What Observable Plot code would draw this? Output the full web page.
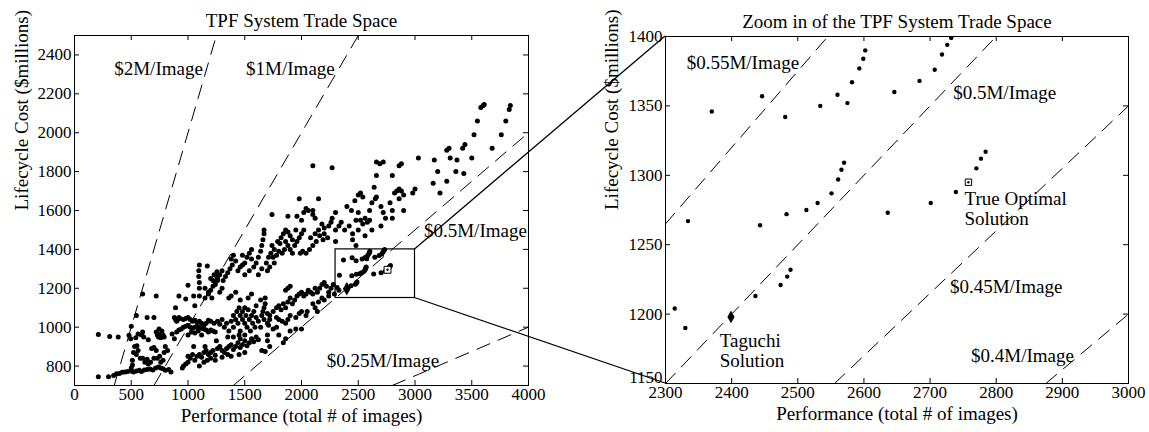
<!DOCTYPE html>
<html><head><meta charset="utf-8">
<script src="https://cdn.jsdelivr.net/npm/d3@7"></script>
<script src="https://cdn.jsdelivr.net/npm/@observablehq/plot@0.6"></script>
<style>
body{margin:0;background:#fff;}
#wrap{position:relative;width:1149px;height:432px;overflow:hidden;background:#fff;}
#wrap > svg{position:absolute;top:0;}
</style></head><body><div id="wrap"></div>
<script>
// ---------- data ----------
const leftXTicks = [0,500,1000,1500,2000,2500,3000,3500,4000];
const leftYTicks = [800,1000,1200,1400,1600,1800,2000,2200,2400];
const rightXTicks = [2300,2400,2500,2600,2700,2800,2900,3000];
const rightYTicks = [1150,1200,1250,1300,1350,1400];
const leftRates = [2,1,0.5,0.25];          // $M per image
const rightRates = [0.55,0.5,0.45,0.4];
const zoomBox = [{x1:2300,x2:3000,y1:1150,y2:1400}];
const leftNotes = [
  {text:"$2M/Image", x:350, y:2330},
  {text:"$1M/Image", x:1512, y:2330},
  {text:"$0.5M/Image", x:3079, y:1495},
  {text:"$0.25M/Image", x:2223, y:831}
];
const rightNotes = [
  {text:"$0.55M/Image", x:2332, y:1381},
  {text:"$0.5M/Image", x:2735, y:1360},
  {text:"$0.45M/Image", x:2730, y:1220},
  {text:"$0.4M/Image", x:2762, y:1170},
  {text:"True Optimal\nSolution", x:2752, y:1276},
  {text:"Taguchi\nSolution", x:2382, y:1174}
];
// design points inside the zoom window
const zoomPoints = [
  [2314,1204],[2330,1190],[2334,1267],[2370,1346],[2446,1357],[2481,1342],[2534,1350],
  [2560,1358],[2575,1352],[2582,1367],[2593,1377],[2599,1384],[2602,1390],[2646,1360],
  [2684,1368],[2707,1376],[2718,1387],[2726,1394],[2732,1399],[2739,1288],[2770,1305],
  [2777,1312],[2784,1317],[2701,1280],[2636,1273],[2570,1309],[2566,1304],[2561,1297],
  [2551,1287],[2530,1280],[2513,1275],[2483,1272],[2443,1264],[2489,1232],[2484,1227],
  [2474,1221],[2436,1213]
];
const taguchi = [[2399,1198]];
const trueOptimal = [[2758,1295]];
// remaining design points of the trade space
const tradePoints = [
  // bottom stream
  [210,745],[300,745],[345,752],[370,760],[395,762],[420,768],[445,770],[470,772],[500,775],[520,770],
  [545,775],[570,778],[590,772],[615,780],[640,782],[665,785],[690,780],[715,790],[740,795],[760,790],
  [780,786],[800,778],[830,782],[850,770],[500,790],[510,805],
  // left scatter
  [210,962],[310,952],[385,950],[480,958],[500,1005],[495,940],[520,870],[530,900],[510,830],[550,905],
  [560,880],[545,860],[580,840],[600,840],[620,820],[640,835],[590,960],[600,975],[560,965],[540,945],
  [610,950],[650,935],[680,890],[700,895],[720,880],[730,840],[750,850],[760,820],[700,840],[670,820],
  [650,810],[780,830],[790,870],[800,900],[820,880],
  [720,975],[730,960],[740,950],[755,965],[770,980],[780,960],[760,945],[790,950],[745,990],[700,1050],
  [720,1160],[600,1170],[545,1060],[640,1050],
  // dense 1000-level cluster
  [880,1050],[890,1040],[900,1030],[910,1040],[920,1050],[930,1045],[900,975],[920,985],[940,990],[960,1000],
  [980,1005],[1000,1010],[1020,1000],[1040,995],[1060,1000],[1080,1005],[1100,1000],[1120,995],[1140,990],[1160,985],
  [1180,975],[1200,985],[1220,980],[1240,975],[960,1040],[980,1045],[1000,1050],[1020,1040],[1040,1030],[1060,1035],
  [1080,1025],[1100,1030],[1120,1020],[1140,1010],[1160,1020],[1180,1035],[1200,1030],[1230,1020],[1260,1030],[1280,1015],
  [1300,1040],[1000,960],[1030,975],[1060,970],[1090,980],[1120,960],[860,965],[880,940],
  [890,1100],[920,1160],[1000,1215],[980,1145],[1050,1160],[1060,1110],[1100,1160],[1100,1200],[1100,1230],[1095,1260],
  [1095,1290],[1100,1320],[1170,1315],[1150,1200],[1180,1180],[1210,1150],[1250,1265],[1255,1285],[1260,1240],[1240,1220],
  [1300,1200],[1280,1180],[1200,1250],[1220,1240],[1230,1270],
  // lower band
  [950,790],[960,800],[980,810],[1000,820],[1000,850],[1020,840],[1040,860],[1060,830],[1080,850],[1100,860],
  [1120,845],[1140,870],[1160,880],[1180,860],[1200,870],[1220,880],[1240,855],[1260,890],[1280,900],[1300,880],
  [1320,870],[1340,890],[1360,900],[1380,910],[1400,885],[1420,900],[1440,920],[1460,895],[1480,910],[1500,930],
  [1520,905],[1540,920],[1560,940],[1580,925],[1600,950],[1620,935],[1650,880],[1680,875],[1500,870],[1450,860],
  [1380,850],[1100,800],[1140,820],[1170,830],[1200,840],[1240,830],[1300,845],[1350,860],[1460,940],[1050,900],
  [1150,900],[1250,930],[1350,950],[1450,960],[1400,950],
  // middle cloud
  [1320,1000],[1340,1020],[1360,980],[1380,1030],[1400,1060],[1400,1000],[1420,1040],[1430,1080],[1440,1020],[1450,1100],
  [1460,1060],[1480,1040],[1480,1080],[1500,1100],[1500,1020],[1510,1060],[1520,1000],[1530,1090],[1540,1040],[1550,980],
  [1560,1060],[1570,1020],[1580,1080],[1590,1000],[1600,1050],[1620,1030],[1640,1000],[1650,1060],[1660,1080],[1670,1100],
  [1680,1120],[1680,1150],[1670,1040],[1700,1070],[1710,1010],[1720,1040],[1500,960],[1460,980],[1360,1150],[1380,1160],
  [1420,1180],[1460,1140],[1530,1150],[1560,1170],[1600,1110],[1640,1140],
  // upper band
  [1150,1150],[1180,1170],[1200,1190],[1220,1210],[1240,1230],[1260,1250],[1280,1270],[1300,1290],[1310,1240],[1330,1260],
  [1350,1280],[1370,1300],[1390,1320],[1400,1370],[1380,1350],[1420,1340],[1440,1290],[1460,1310],[1480,1320],[1500,1330],
  [1520,1360],[1540,1380],[1560,1400],[1580,1310],[1600,1330],[1620,1360],[1640,1390],[1650,1420],[1660,1450],[1670,1480],
  [1670,1500],[1560,1350],[1480,1370],[1500,1270],[1540,1290],[1620,1270],[1650,1300],[1690,1330],[1710,1360],[1730,1380],
  [1700,1290],[1720,1310],[1740,1420],[1750,1360],[1760,1400],[1780,1370],[1800,1390],[1760,1330],[1790,1440],[1810,1430],
  [1820,1460],[1840,1480],[1860,1500],[1880,1490],[1900,1470],[1920,1450],[1860,1440],[1880,1420],[1900,1400],[1920,1380],
  [1940,1420],[1960,1440],[1980,1460],[2000,1480],[2020,1500],[1950,1500],[1850,1400],[1830,1380],[1990,1380],[2010,1390],
  [2040,1380],[2070,1400],[2100,1420],[2130,1440],[2160,1470],[2080,1460],[2120,1480],[2150,1500],[2200,1510],[2240,1520],
  [2260,1540],[2270,1560],[2300,1500],[2330,1520],[2350,1540],[2190,1450],[2230,1460],[2020,1590],[2040,1610],[2060,1600],
  [2100,1580],[2120,1560],[2000,1550],[1960,1570],[1980,1660],[2150,1660],[2100,1600],[2180,1530],[2200,1480],[2300,1590],
  [1880,1570],[1740,1580],[2100,1830],[2270,1820],
  // upper right
  [2380,1500],[2420,1520],[2450,1480],[2480,1550],[2500,1590],[2520,1550],[2540,1530],[2560,1560],[2580,1540],[2400,1620],
  [2440,1600],[2470,1650],[2500,1680],[2520,1690],[2540,1670],[2600,1600],[2620,1640],[2650,1660],[2660,1670],[2700,1620],
  [2720,1590],[2740,1560],[2780,1640],[2800,1600],[2820,1690],[2840,1700],[2860,1710],[2880,1700],[2900,1680],[2860,1660],
  [2640,1720],[2660,1780],[2690,1840],[2720,1850],[2800,1780],[2860,1830],[2880,1840],[2660,1850],[2600,1550],[2500,1500],
  [2620,1500],[2700,1520],[2800,1560],[2900,1600],[2980,1690],[3000,1710],[3030,1870],[3160,1740],[3200,1800],[3170,1860],
  [3220,1690],[3280,1910],[3300,1920],[3310,1870],[3370,1860],[3360,1800],[3280,1750],[3420,1920],[3440,1940],[3430,1790],
  [3500,1870],[3520,1990],[3550,2060],[3580,2130],[3600,2140],[3610,2145],[3680,1920],[3760,1990],[3800,2060],[3830,2120],
  [3840,2140],[2450,1450],[2560,1470],[2480,1420],[2300,1440],
  // second lower band
  [1700,1020],[1720,1060],[1750,1080],[1780,1100],[1800,1110],[1820,1090],[1840,1120],[1860,1100],[1880,1130],[1900,1150],
  [1920,1120],[1940,1140],[1960,1160],[1980,1170],[2000,1180],[2020,1160],[2040,1170],[2060,1190],[2080,1180],[2100,1170],
  [2120,1200],[2140,1180],[2160,1200],[2180,1220],[2200,1230],[2220,1210],[2240,1180],[2260,1200],[2280,1220],[1880,1200],
  [1900,1210],[1860,1190],[1780,1050],[1800,1040],[1830,1030],[1860,1020],[1880,1040],[1900,1060],[1950,1050],[1980,1070],
  [2000,1080],[2050,1080],[2100,1120],[2150,1130],[2200,1140],[1700,960],[1750,990],[1780,1000],[1900,980],[1950,990],
  [2000,990],[1800,960],[1700,930],[1720,900],[1840,920],[1860,940],[2040,1060],[2120,1100],[2180,1150],[2240,1160],
  [2290,1170],[2140,1080]
];
const allPoints = tradePoints.concat(zoomPoints, taguchi);

const xLabel = "Performance (total # of images)";
const yLabel = "Lifecycle Cost ($millions)";

// ---------- drawing ----------
const FONT = "'Liberation Serif','Times New Roman',serif";

function rateSegments(rates, xd, yd) {
  return rates.flatMap(k => {
    const xa = Math.max(xd[0], yd[0] / k), xb = Math.min(xd[1], yd[1] / k);
    return [{k, x: xa, y: k * xa}, {k, x: xb, y: k * xb}];
  });
}

function panel(o) {
  const fw = o.width - o.mL - o.mR, fh = o.height - o.mT - o.mB, t = 5;
  const yMain = o.yt.filter(v => v !== o.yd[0]);
  const yLow = o.yt.filter(v => v === o.yd[0]);
  return Plot.plot({
    width: o.width, height: o.height,
    marginLeft: o.mL, marginRight: o.mR, marginTop: o.mT, marginBottom: o.mB,
    x: {domain: o.xd}, y: {domain: o.yd},
    style: {fontFamily: FONT, fontSize: "17px", color: "black", background: "transparent", overflow: "visible"},
    marks: [
      Plot.line(rateSegments(o.rates, o.xd, o.yd), {x: "x", y: "y", z: "k", stroke: "black", strokeWidth: 1, strokeDasharray: "14,9"}),
      Plot.dot(o.points, {x: d => d[0], y: d => d[1], r: o.r, fill: "black", stroke: "none", clip: true}),
      Plot.dot(taguchi, {x: d => d[0], y: d => d[1], symbol: "diamond", r: o.r + 1.6, fill: "black", clip: true}),
      Plot.dot(trueOptimal, {x: d => d[0], y: d => d[1], symbol: "square", r: o.r + 1.4, fill: "white", stroke: "black", strokeWidth: 1, clip: true}),
      Plot.dot(trueOptimal, {x: d => d[0], y: d => d[1], r: 1.2, fill: "black", clip: true}),
      ...(o.box ? [Plot.rect(o.box, {x1: "x1", x2: "x2", y1: "y1", y2: "y2", fill: "none", stroke: "black", strokeWidth: 1.2})] : []),
      Plot.text(o.notes, {x: "x", y: "y", text: "text", textAnchor: "start", fontSize: 19, fill: "black", lineHeight: 1.08}),
      Plot.tickX(o.xt, {x: d => d, insetTop: fh - t, stroke: "black"}),
      Plot.tickX(o.xt, {x: d => d, insetBottom: fh - t, stroke: "black"}),
      Plot.tickY(o.yt, {y: d => d, insetRight: fw - t, stroke: "black"}),
      Plot.tickY(o.yt, {y: d => d, insetLeft: fw - t, stroke: "black"}),
      Plot.axisX({ticks: o.xt, tickSize: 0, tickPadding: 2, label: null, tickFormat: d => String(d), fontSize: 17}),
      Plot.axisY({ticks: yMain, tickSize: 0, tickPadding: 3, label: null, tickFormat: d => String(d), fontSize: 17}),
      Plot.axisY({ticks: yLow, tickSize: 0, tickPadding: 3, label: null, tickFormat: d => String(d), fontSize: 17, dy: o.lowDy}),
      Plot.frame({stroke: "black", strokeWidth: 1}),
      Plot.text([o.title], {text: d => d, frameAnchor: "top", dy: -22, fontSize: 19, fill: "black"}),
      Plot.text([xLabel], {text: d => d, frameAnchor: "bottom", dy: 36, fontSize: 19, fill: "black"}),
      Plot.text([yLabel], {text: d => d, frameAnchor: "left", rotate: -90, dx: o.ylDx, fontSize: 19, fill: "black"})
    ]
  });
}

const wrap = document.getElementById("wrap");
const left = panel({
  width: 580, height: 432, mL: 74, mR: 52, mT: 35, mB: 47,
  xd: [0, 4000], yd: [700, 2500], xt: leftXTicks, yt: leftYTicks,
  rates: leftRates, notes: leftNotes, points: allPoints, r: 2.5, box: zoomBox,
  title: "TPF System Trade Space", ylDx: -53, lowDy: 0
});
const right = panel({
  width: 569, height: 432, mL: 85, mR: 21, mT: 36, mB: 49,
  xd: [2300, 3000], yd: [1150, 1400], xt: rightXTicks, yt: rightYTicks,
  rates: rightRates, notes: rightNotes, points: allPoints, r: 2.2, box: null,
  title: "Zoom in of the TPF System Trade Space", ylDx: -54, lowDy: -6
});
left.style.left = "0px";
right.style.left = "580px";
wrap.appendChild(left);
wrap.appendChild(right);

// connector lines from the zoom box to the zoomed panel, via the plots' own scales
const lx = left.scale("x"), ly = left.scale("y"), rx = right.scale("x"), ry = right.scale("y");
const box = zoomBox[0];
const conns = [
  [lx.apply(box.x2), ly.apply(box.y2), 580 + rx.apply(rx.domain[0]), ry.apply(ry.domain[1])],
  [lx.apply(box.x2), ly.apply(box.y1), 580 + rx.apply(rx.domain[0]), ry.apply(ry.domain[0])]
];
const ov = d3.select(wrap).append("svg").attr("width", 1149).attr("height", 432).style("left", "0px").style("pointer-events", "none");
ov.selectAll("line").data(conns).join("line")
  .attr("x1", d => d[0]).attr("y1", d => d[1]).attr("x2", d => d[2]).attr("y2", d => d[3])
  .attr("stroke", "black").attr("stroke-width", 1.3);
</script></body></html>
